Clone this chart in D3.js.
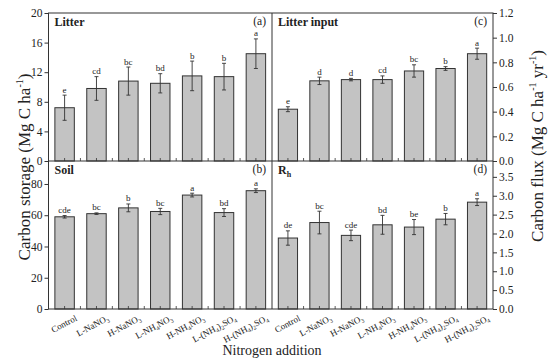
<!DOCTYPE html>
<html>
<head>
<meta charset="utf-8">
<script src="https://cdn.jsdelivr.net/npm/d3@7"></script>
<style>
  body { margin: 0; background: #fff; }
  text { font-family: "Liberation Serif", "Times New Roman", serif; fill: #222; }
</style>
</head>
<body>
<svg id="grafico" width="550" height="361"></svg>
<script>
const categories = ["Control", "L-NaNO3", "H-NaNO3", "L-NH4NO3", "H-NH4NO3", "L-(NH4)2SO4", "H-(NH4)2SO4"];

// (a) litter carbon storage
const litter = [7.2, 9.8, 10.8, 10.5, 11.5, 11.4, 14.5];
const litterErr = [1.7, 1.6, 1.9, 1.3, 2.0, 1.8, 2.0];
const litterLetters = ["e", "cd", "bc", "bd", "b", "b", "a"];

// (b) soil carbon storage
const soil = [59.0, 61.0, 64.7, 62.4, 72.9, 61.7, 75.7];
const soilErr = [0.8, 0.5, 2.5, 2.0, 1.2, 2.5, 1.2];
const soilLetters = ["cde", "bc", "b", "bc", "a", "bd", "a"];

// (c) litter input
const litterInput = [0.42, 0.65, 0.66, 0.66, 0.73, 0.75, 0.87];
const litterInputErr = [0.02, 0.03, 0.01, 0.03, 0.05, 0.015, 0.045];
const litterInputLetters = ["e", "d", "d", "cd", "bc", "b", "a"];

// (d) heterotrophic respiration
const rh = [1.88, 2.29, 1.95, 2.23, 2.17, 2.38, 2.83];
const rhErr = [0.19, 0.30, 0.14, 0.25, 0.20, 0.15, 0.09];
const rhLetters = ["de", "bc", "cde", "bd", "be", "b", "a"];

const litterTicks = [0, 4, 8, 12, 16, 20];
const soilTicks = [0, 20, 40, 60, 80];
const inputTicks = [0, 0.2, 0.4, 0.6, 0.8, 1.0, 1.2];
const rhTicks = [0, 0.5, 1.0, 1.5, 2.0, 2.5, 3.0, 3.5];

const svg = d3.select("#grafico");

const xL = 48.5, xM = 272, xR = 493;
const yT = 13, yM = 161, yB = 309;

const paneles = [
  { titulo: "Litter", tag: "(a)", vals: litter, err: litterErr, letras: litterLetters,
    x0: xL, x1: xM, y0: yM, y1: yT, dom: [0, 20], ticks: litterTicks, fmt: d3.format("d"), lado: "left" },
  { titulo: "Soil", tag: "(b)", vals: soil, err: soilErr, letras: soilLetters,
    x0: xL, x1: xM, y0: yB, y1: yM, dom: [0, 94.7], ticks: soilTicks, fmt: d3.format("d"), lado: "left", etiquetas: true },
  { titulo: "Litter input", tag: "(c)", vals: litterInput, err: litterInputErr, letras: litterInputLetters,
    x0: xM, x1: xR, y0: yM, y1: yT, dom: [0, 1.2], ticks: inputTicks, fmt: d3.format(".1f"), lado: "right" },
  { titulo: "R", sub: "h", tag: "(d)", vals: rh, err: rhErr, letras: rhLetters,
    x0: xM, x1: xR, y0: yB, y1: yM, dom: [0, 3.92], ticks: rhTicks, fmt: d3.format(".1f"), lado: "right", etiquetas: true }
];

// label with chemical subscripts
function quimica(sel, s) {
  const partes = s.split(/(\d)/);
  partes.forEach(p => {
    if (p === "") return;
    if (/\d/.test(p)) {
      sel.append("tspan").attr("font-size", "6px").attr("dy", 2).text(p);
      sel.append("tspan").attr("dy", -2).text("\u200b");
    } else {
      sel.append("tspan").text(p);
    }
  });
}

paneles.forEach(p => {
  const x = d3.scaleBand().domain(categories).range([p.x0, p.x1]).paddingInner(0.39).paddingOuter(0.2);
  const y = d3.scaleLinear().domain(p.dom).range([p.y0, p.y1]);
  const g = svg.append("g");

  g.selectAll("rect.bar")
    .data(p.vals)
    .join("rect")
    .attr("class", "bar")
    .attr("x", (_, i) => x(categories[i]))
    .attr("y", d => y(d))
    .attr("width", x.bandwidth())
    .attr("height", d => y(0) - y(d))
    .attr("fill", "#c3c3c3")
    .attr("stroke", "#333")
    .attr("stroke-width", 1);

  const cx = i => x(categories[i]) + x.bandwidth() / 2;

  g.selectAll("line.err")
    .data(p.vals)
    .join("line")
    .attr("x1", (_, i) => cx(i)).attr("x2", (_, i) => cx(i))
    .attr("y1", (d, i) => y(d - p.err[i])).attr("y2", (d, i) => y(d + p.err[i]))
    .attr("stroke", "#333").attr("stroke-width", 0.9);
  ["-", "+"].forEach(sg => {
    g.selectAll("line.cap" + (sg === "+" ? "t" : "b"))
      .data(p.vals)
      .join("line")
      .attr("x1", (_, i) => cx(i) - 2).attr("x2", (_, i) => cx(i) + 2)
      .attr("y1", (d, i) => y(sg === "+" ? d + p.err[i] : d - p.err[i]))
      .attr("y2", (d, i) => y(sg === "+" ? d + p.err[i] : d - p.err[i]))
      .attr("stroke", "#333").attr("stroke-width", 0.9);
  });

  g.selectAll("text.letra")
    .data(p.letras)
    .join("text")
    .attr("x", (_, i) => cx(i))
    .attr("y", (_, i) => y(p.vals[i] + p.err[i]) - 2.5)
    .attr("text-anchor", "middle")
    .attr("font-size", "9px")
    .text(d => d);

  // inward x ticks at centres and band edges
  const step = (p.x1 - p.x0) / categories.length;
  const xt = d3.range(categories.length).map(i => cx(i)).concat(d3.range(1, categories.length).map(i => p.x0 + i * step));
  g.selectAll("line.xt")
    .data(xt)
    .join("line")
    .attr("x1", d => d).attr("x2", d => d)
    .attr("y1", p.y0).attr("y2", p.y0 - 3)
    .attr("stroke", "#333").attr("stroke-width", 0.8);

  // y axis
  const eje = p.lado === "left" ? d3.axisLeft(y) : d3.axisRight(y);
  eje.tickValues(p.ticks).tickFormat(p.fmt).tickSize(4).tickPadding(2);
  const ga = svg.append("g")
    .attr("transform", `translate(${p.lado === "left" ? p.x0 : p.x1},0)`)
    .call(eje);
  ga.select(".domain").remove();
  ga.selectAll("line").attr("stroke", "#333");
  ga.selectAll("text").attr("font-size", "11.5px").attr("font-family", "Liberation Serif").attr("fill", "#222");

  // panel titles
  const t = g.append("text")
    .attr("x", p.x0 + 6).attr("y", p.y1 + 13)
    .attr("font-size", "12px").attr("font-weight", "bold")
    .text(p.titulo);
  if (p.sub) t.append("tspan").attr("font-size", "8px").attr("dy", 3).text(p.sub);
  g.append("text")
    .attr("x", p.x1 - 6).attr("y", p.y1 + 12)
    .attr("text-anchor", "end")
    .attr("font-size", "11.5px")
    .text(p.tag);

  if (p.etiquetas) {
    g.selectAll("text.cat")
      .data(categories)
      .join("text")
      .attr("class", "cat")
      .attr("text-anchor", "end")
      .attr("font-size", "9px")
      .attr("transform", (_, i) => `translate(${cx(i) + 13},${p.y0 + 11}) rotate(-28)`)
      .each(function (d) { quimica(d3.select(this), d); });
  }
});

// frame
const marco = svg.append("g").attr("fill", "none").attr("stroke", "#333").attr("stroke-width", 1);
marco.append("rect").attr("x", xL).attr("y", yT).attr("width", xR - xL).attr("height", yB - yT);
marco.append("line").attr("x1", xM).attr("x2", xM).attr("y1", yT).attr("y2", yB);
marco.append("line").attr("x1", xL).attr("x2", xR).attr("y1", yM).attr("y2", yM);

// axis titles
const tl = svg.append("text")
  .attr("transform", `translate(30,${(yT + yB) / 2 + 6}) rotate(-90)`)
  .attr("text-anchor", "middle")
  .attr("font-size", "17px");
tl.append("tspan").text("Carbon storage (Mg C ha");
tl.append("tspan").attr("font-size", "10px").attr("dy", -7).text("-1");
tl.append("tspan").attr("dy", 7).text(")");

const tr = svg.append("text")
  .attr("transform", `translate(543,146) rotate(-90)`)
  .attr("text-anchor", "middle")
  .attr("font-size", "17px");
tr.append("tspan").text("Carbon flux (Mg C ha");
tr.append("tspan").attr("font-size", "10px").attr("dy", -7).text("-1");
tr.append("tspan").attr("dy", 7).text(" yr");
tr.append("tspan").attr("font-size", "10px").attr("dy", -7).text("-1");
tr.append("tspan").attr("dy", 7).text(")");

svg.append("text")
  .attr("x", 272).attr("y", 355)
  .attr("text-anchor", "middle")
  .attr("font-size", "14px")
  .text("Nitrogen addition");
</script>
</body>
</html>
